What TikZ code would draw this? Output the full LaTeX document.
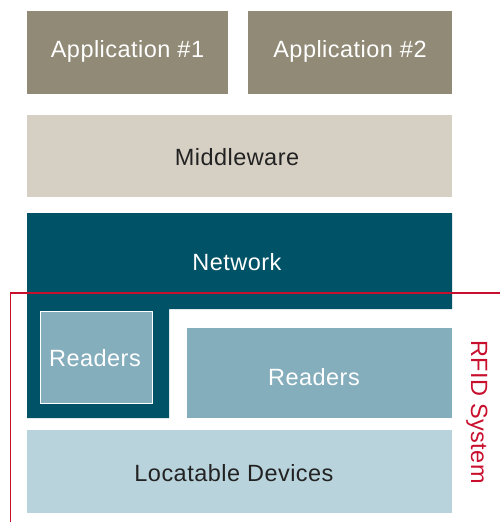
\documentclass[tikz,border=0pt]{standalone}
\usepackage{fontspec}
\setmainfont{Liberation Sans}[LetterSpace=2]
\definecolor{appc}{HTML}{918A76}
\definecolor{midc}{HTML}{D6CFC4}
\definecolor{netc}{HTML}{005366}
\definecolor{rdrc}{HTML}{85AEBD}
\definecolor{locc}{HTML}{B9D3DC}
\definecolor{rfidc}{HTML}{C8102E}
\definecolor{txtc}{HTML}{222222}
\begin{document}
\begin{tikzpicture}[x=1pt,y=-1pt,
  lbl/.style={font=\fontsize{23.5}{28}\selectfont, inner sep=0pt}]
\useasboundingbox (0,0) rectangle (500,522);
% application layer
\fill[appc] (27,11) rectangle (228,94);
\node[lbl, text=white] (app1) at (127.5,51.5) {Application \#1};
\fill[appc] (248,11) rectangle (452,94);
\node[lbl, text=white] (app2) at (350,51.5) {Application \#2};
% middleware
\fill[midc] (27,115) rectangle (452,197);
\node[lbl, text=txtc] (mid) at (237,157) {Middleware};
% network (L-shaped)
\fill[netc] (27,213) -- (452,213) -- (452,309) -- (169,309) -- (169,418) -- (27,418) -- cycle;
\node[lbl, text=white] (net) at (237,262) {Network};
% readers inside network
\filldraw[fill=rdrc, draw=white, line width=1.8pt] (40.5,311.5) rectangle (152.5,403.5);
\node[lbl, text=white] (rdr1) at (95,358) {Readers};
% readers
\fill[rdrc] (187,328) rectangle (452,418);
\node[lbl, text=white] (rdr2) at (314,377) {Readers};
% locatable devices
\fill[locc] (27,430) rectangle (452,513);
\node[lbl, text=txtc] (loc) at (234,473) {Locatable Devices};
% RFID system boundary
\coordinate (rc) at (10.5,293);
\draw[rfidc, line width=1.9pt] (500,293) -- (rc) -- (10.5,522);
\node[lbl, text=rfidc, rotate=-90] (rfid) at (477,412) {RFID System};
\end{tikzpicture}
\end{document}
